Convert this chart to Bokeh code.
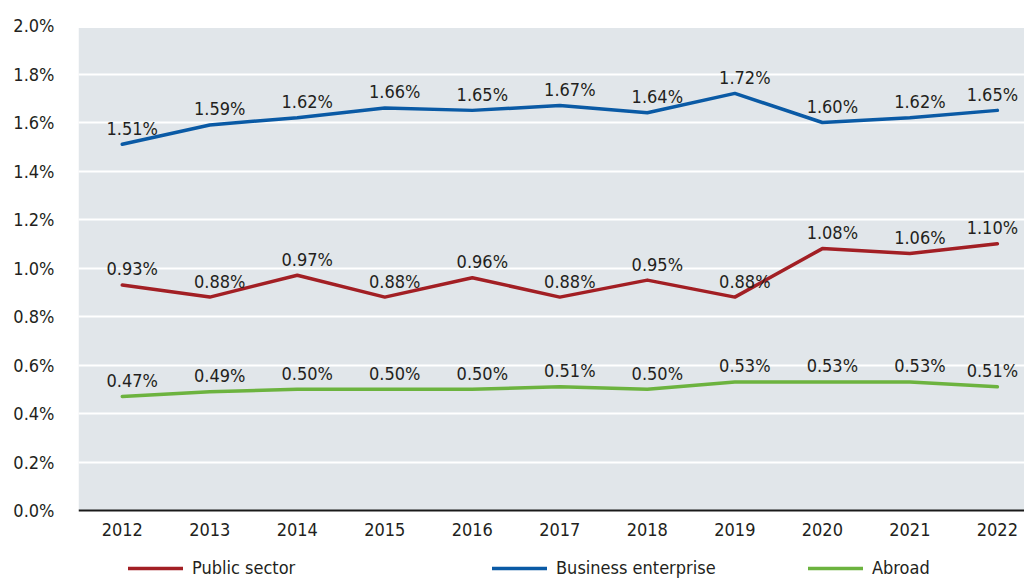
from bokeh.plotting import figure
from bokeh.models import (ColumnDataSource, Range1d, FixedTicker, PrintfTickFormatter,
                          Legend, LegendItem, BoxAnnotation, LinearAxis)
from bokeh.embed import file_html
from bokeh.resources import INLINE
from bokeh.core.properties import value

years = [2012, 2013, 2014, 2015, 2016, 2017, 2018, 2019, 2020, 2021, 2022]
business = [1.51, 1.59, 1.62, 1.66, 1.65, 1.67, 1.64, 1.72, 1.60, 1.62, 1.65]
public = [0.93, 0.88, 0.97, 0.88, 0.96, 0.88, 0.95, 0.88, 1.08, 1.06, 1.10]
abroad = [0.47, 0.49, 0.50, 0.50, 0.50, 0.51, 0.50, 0.53, 0.53, 0.53, 0.51]
y_ticks = [0.0, 0.2, 0.4, 0.6, 0.8, 1.0, 1.2, 1.4, 1.6, 1.8, 2.0]
series_names = ["Public sector", "Business enterprise", "Abroad"]

FONT = "DejaVu Sans Condensed"
FS = "18px"
TXT = "#231f20"
COL_PUBLIC = "#a21f24"
COL_BUSINESS = "#0a5aa5"
COL_ABROAD = "#6cb33f"
PANEL = "#e1e6ea"

p = figure(width=1024, height=578, output_backend="svg", toolbar_location=None,
           x_range=Range1d(2011.5, 2022.31), y_range=Range1d(-68 / 242.5, 2.0),
           x_axis_location=None, y_axis_location=None,
           min_border_left=78, min_border_right=0, min_border_top=25, min_border_bottom=0)
p.background_fill_color = "white"
p.border_fill_color = "white"
p.outline_line_color = None

# grey panel only over the data area (0 .. 2.0)
p.add_layout(BoxAnnotation(bottom=0, top=1.99, fill_color=PANEL, fill_alpha=1,
                           line_color=None, level="image"))

yaxis = LinearAxis(ticker=FixedTicker(ticks=y_ticks),
                   formatter=PrintfTickFormatter(format="%.1f%%"))
yaxis.axis_line_color = None
yaxis.major_tick_line_color = None
yaxis.minor_tick_line_color = None
yaxis.major_tick_out = 0
yaxis.major_tick_in = 0
yaxis.major_label_standoff = 24
p.add_layout(yaxis, "left")

xaxis = LinearAxis(ticker=FixedTicker(ticks=years),
                   formatter=PrintfTickFormatter(format="%d"), fixed_location=0)
xaxis.axis_line_color = "#1a1a1a"
xaxis.axis_line_width = 2
xaxis.major_tick_line_color = None
xaxis.minor_tick_line_color = None
xaxis.major_tick_out = 0
xaxis.major_tick_in = 0
xaxis.major_label_standoff = 12
p.add_layout(xaxis, "below")

for ax in (xaxis, yaxis):
    ax.major_label_text_font = FONT
    ax.major_label_text_font_size = FS
    ax.major_label_text_color = TXT

p.xgrid.grid_line_color = None
p.ygrid.grid_line_color = "white"
p.ygrid.grid_line_width = 2
p.ygrid.ticker = FixedTicker(ticks=y_ticks[1:-1])

renderers = []
for vals, col in ((public, COL_PUBLIC), (business, COL_BUSINESS), (abroad, COL_ABROAD)):
    r = p.line(years, vals, line_color=col, line_width=3.5, line_join="round", line_cap="round")
    renderers.append(r)
    offs = [10] * (len(years) - 1) + [-5]
    src = ColumnDataSource(dict(x=years, y=vals, t=[f"{v:.2f}%" for v in vals], xo=offs))
    p.text(x="x", y="y", text="t", source=src, x_offset="xo", y_offset=-16,
           text_align="center", text_baseline="alphabetic",
           text_font=value(FONT), text_font_size=FS, text_color=TXT)

legend_x = [50, 414, 730]
for name, r, lx in zip(series_names, renderers, legend_x):
    lg = Legend(items=[LegendItem(label=name, renderers=[r])], location=(lx, 0),
                orientation="horizontal", glyph_width=55, glyph_height=14,
                label_height=14, label_standoff=9, padding=0, margin=0, spacing=0,
                border_line_color=None, background_fill_alpha=0,
                label_text_font=FONT, label_text_font_size=FS,
                label_text_color=TXT)
    p.add_layout(lg, "center")

open("out.html", "w").write(file_html(p, INLINE))
